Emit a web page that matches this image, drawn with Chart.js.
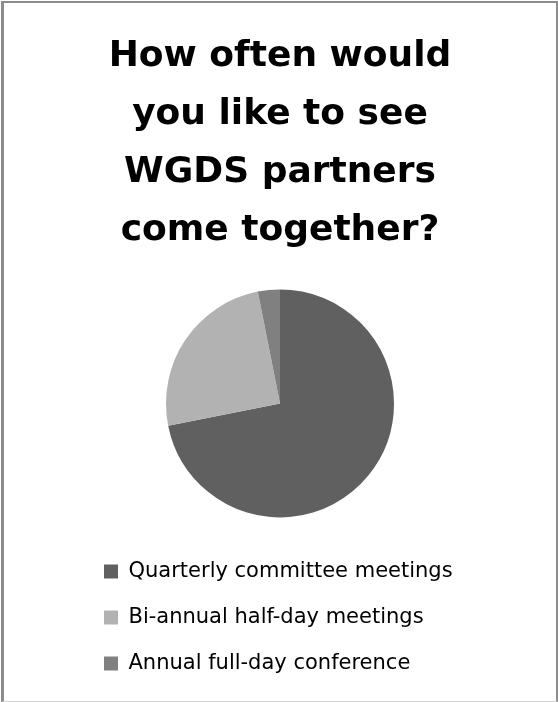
<!DOCTYPE html>
<html>
<head>
<meta charset="utf-8">
<script src="https://cdn.jsdelivr.net/npm/chart.js@4/dist/chart.umd.min.js"></script>
<style>
    html, body { margin: 0; padding: 0; background: #fff; }
    #wrap { position: relative; width: 558px; height: 702px; }
    canvas { display: block; }
    #frame {
        position: absolute; left: 1px; top: 1px; width: 552px; height: 698px;
        border-left: 3px solid #8c8c8c; border-top: 2px solid #8c8c8c;
        border-right: 2px solid #8c8c8c; border-bottom: 1px solid #d4d4d4;
        pointer-events: none;
    }
</style>
</head>
<body>
<div id="wrap">
    <canvas id="chart1" width="558" height="702"></canvas>
    <div id="frame"></div>
</div>
<script>
const categories = ['Quarterly committee meetings', 'Bi-annual half-day meetings', 'Annual full-day conference'];
const responses = [23, 8, 1];
const sliceColors = ['#606060', '#b2b2b2', '#808080'];
const titleLines = ['How often would', 'you like to see', 'WGDS partners', 'come together?'];

const ctx1 = document.getElementById('chart1').getContext('2d');
new Chart(ctx1, {
    type: 'pie',
    data: {
        labels: categories,
        datasets: [{
            data: responses,
            backgroundColor: sliceColors,
            borderWidth: 0,
            radius: 114
        }]
    },
    options: {
        responsive: false,
        animation: false,
        layout: {
            padding: { left: 79, right: 77, top: 0, bottom: 18 }
        },
        plugins: {
            title: {
                display: true,
                text: titleLines,
                color: '#000',
                font: { family: 'DejaVu Sans', size: 36, weight: 'bold', lineHeight: 1.61 },
                padding: { top: 28, bottom: 11 }
            },
            legend: {
                position: 'bottom',
                align: 'start',
                labels: {
                    color: '#000',
                    boxWidth: 14,
                    boxHeight: 14,
                    padding: 25,
                    font: { family: 'DejaVu Sans', size: 21 }
                }
            },
            tooltip: { enabled: false }
        }
    }
});
</script>
</body>
</html>
